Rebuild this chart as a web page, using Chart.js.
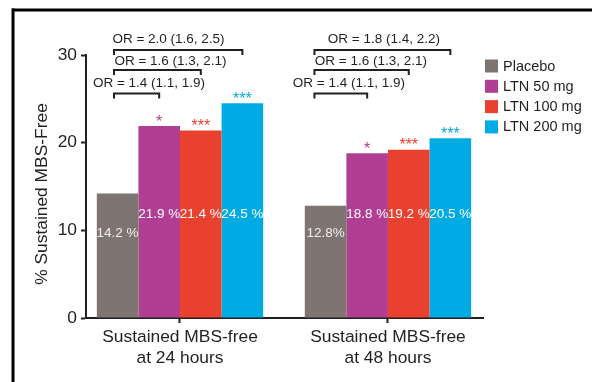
<!DOCTYPE html>
<html>
<head>
<meta charset="utf-8">
<script src="https://cdn.jsdelivr.net/npm/chart.js@4/dist/chart.umd.min.js"></script>
<style>
  html, body { margin: 0; padding: 0; background: #fff; }
  #wrap { width: 592px; height: 382px; position: relative; }
</style>
</head>
<body>
<div id="wrap"><canvas id="c"></canvas></div>
<script>
// ---- data ----
const timepoints = [['Sustained MBS-free', 'at 24 hours'], ['Sustained MBS-free', 'at 48 hours']];
const seriesNames = ['Placebo', 'LTN 50 mg', 'LTN 100 mg', 'LTN 200 mg'];
const placebo = [14.2, 12.8];
const ltn50 = [21.9, 18.8];
const ltn100 = [21.4, 19.2];
const ltn200 = [24.5, 20.5];
const placeboPctSep = [' ', ''];
const sig50 = ['*', '*'];
const sig100 = ['***', '***'];
const sig200 = ['***', '***'];
const orVs50 = ['OR = 1.4 (1.1, 1.9)', 'OR = 1.4 (1.1, 1.9)'];
const orVs100 = ['OR = 1.6 (1.3, 2.1)', 'OR = 1.6 (1.3, 2.1)'];
const orVs200 = ['OR = 2.0 (1.6, 2.5)', 'OR = 1.8 (1.4, 2.2)'];
const yTicks = [0, 10, 20, 30];

// ---- styling ----
const FONT = '"Liberation Sans", Arial, Helvetica, sans-serif';
const INK = '#231f20';
const colors = ['#7e7472', '#b03f93', '#e8412f', '#00aae3'];
const seriesValues = [placebo, ltn50, ltn100, ltn200];
const sigMarks = [null, sig50, sig100, sig200];
const orTexts = [null, orVs50, orVs100, orVs200];

// y-levels (axis units) for in-bar labels and the odds-ratio brackets
const labelLevel = { placebo: 9.7, active: 11.85 };
const bracketLevel = [null, 25.62, 28.3, 30.57];
const orTextLevel = [null, 26.75, 29.3, 31.8];
// horizontal offsets (px from each group's centre)
const orTextShift = [[null, -31, -9.5, -11.5], [null, -39, -17, -4]];
const bracketLeftShift = [-66, -73.5];

const datasets = seriesNames.map((name, d) => ({
  label: name,
  data: seriesValues[d].map((v, i) => ({ x: i, y: v })),
  backgroundColor: colors[d],
  borderWidth: 0,
  categoryPercentage: 0.8,
  barPercentage: 1.0
}));

const annotate = {
  id: 'annotate',
  beforeDraw(chart) {
    const ctx = chart.ctx;
    ctx.save();
    ctx.fillStyle = '#000';
    ctx.fillRect(12, 8.5, 580, 3);
    ctx.fillRect(11.5, 8.5, 3, 382);
    ctx.restore();
  },
  afterDatasetsDraw(chart) {
    const ctx = chart.ctx;
    const ys = chart.scales.y;
    const xs = chart.scales.x;
    const metas = datasets.map((_, d) => chart.getDatasetMeta(d));
    ctx.save();

    // value labels inside bars
    ctx.font = '13.5px ' + FONT;
    ctx.textAlign = 'center';
    ctx.textBaseline = 'middle';
    metas.forEach((meta, d) => {
      meta.data.forEach((bar, i) => {
        const v = seriesValues[d][i];
        const sep = d === 0 ? placeboPctSep[i] : ' ';
        const lvl = d === 0 ? labelLevel.placebo : labelLevel.active;
        ctx.fillStyle = d === 0 ? '#f1eeed' : '#ffffff';
        ctx.fillText(v.toFixed(1) + sep + '%', bar.x, ys.getPixelForValue(lvl));
      });
    });

    // significance stars
    ctx.font = '16px ' + FONT;
    ctx.textBaseline = 'alphabetic';
    metas.forEach((meta, d) => {
      if (!sigMarks[d]) return;
      ctx.fillStyle = colors[d];
      meta.data.forEach((bar, i) => {
        ctx.fillText(sigMarks[d][i], bar.x, bar.y + 0.5);
      });
    });

    // odds-ratio brackets
    ctx.strokeStyle = INK;
    ctx.lineWidth = 2;
    ctx.fillStyle = INK;
    ctx.font = '13.5px ' + FONT;
    ctx.textBaseline = 'middle';
    timepoints.forEach((_, i) => {
      const cx = xs.getPixelForValue(i);
      for (let d = 1; d < seriesNames.length; d++) {
        const y = ys.getPixelForValue(bracketLevel[d]);
        const x0 = cx + bracketLeftShift[i];
        const x1 = metas[d].data[i].x;
        ctx.beginPath();
        ctx.moveTo(x0, y + 5);
        ctx.lineTo(x0, y);
        ctx.lineTo(x1, y);
        ctx.lineTo(x1, y + 5);
        ctx.stroke();
        ctx.fillText(orTexts[d][i], cx + orTextShift[i][d], ys.getPixelForValue(orTextLevel[d]));
      }
    });
    ctx.restore();
  },
  afterDraw(chart) {
    const ctx = chart.ctx;
    const area = chart.chartArea;
    const ys = chart.scales.y;
    ctx.save();
    // y-axis title
    ctx.translate(42, (ys.top + ys.bottom) / 2 + 7.5);
    ctx.rotate(-Math.PI / 2);
    ctx.font = '17.4px ' + FONT;
    ctx.fillStyle = INK;
    ctx.textAlign = 'center';
    ctx.textBaseline = 'middle';
    ctx.fillText('% Sustained MBS-Free', 0, 0);
    ctx.restore();

    // legend
    ctx.save();
    ctx.font = '14.5px ' + FONT;
    ctx.textBaseline = 'middle';
    ctx.textAlign = 'left';
    const lx = area.right + 2;
    datasets.forEach((ds, d) => {
      const cy = area.top + 11 + d * 20.3;
      ctx.fillStyle = ds.backgroundColor;
      ctx.fillRect(lx, cy - 6.5, 13, 13);
      ctx.fillStyle = INK;
      ctx.fillText(ds.label, lx + 18, cy + 0.5);
    });
    ctx.restore();
  }
};

new Chart(document.getElementById('c'), {
  type: 'bar',
  data: { datasets },
  options: {
    responsive: true,
    maintainAspectRatio: false,
    devicePixelRatio: 1,
    animation: false,
    layout: { padding: { top: 55, right: 109, bottom: 0, left: 0 } },
    plugins: { legend: { display: false }, tooltip: { enabled: false } },
    scales: {
      x: {
        type: 'linear',
        min: -0.452,
        max: 1.457,
        offset: false,
        afterBuildTicks: s => { s.ticks = timepoints.map((_, i) => ({ value: i })); },
        afterFit: s => { s.height = 64; },
        ticks: {
          callback: v => timepoints[v],
          font: { family: FONT, size: 17.4, lineHeight: 1.2 },
          color: INK,
          padding: 4,
          maxRotation: 0,
          autoSkip: false
        },
        grid: { display: true, drawOnChartArea: false, offset: false, tickLength: 5, tickColor: INK, tickWidth: 2 },
        border: { display: true, color: INK, width: 2 }
      },
      y: {
        min: 0,
        max: 30,
        afterBuildTicks: s => { s.ticks = yTicks.map(v => ({ value: v })); },
        afterFit: s => { s.width = 86; },
        ticks: {
          font: { family: FONT, size: 17.4 },
          color: INK,
          padding: 4
        },
        grid: { display: true, drawOnChartArea: false, tickLength: 5, tickColor: INK, tickWidth: 2 },
        border: { display: true, color: INK, width: 2 }
      }
    }
  },
  plugins: [annotate]
});
</script>
</body>
</html>
